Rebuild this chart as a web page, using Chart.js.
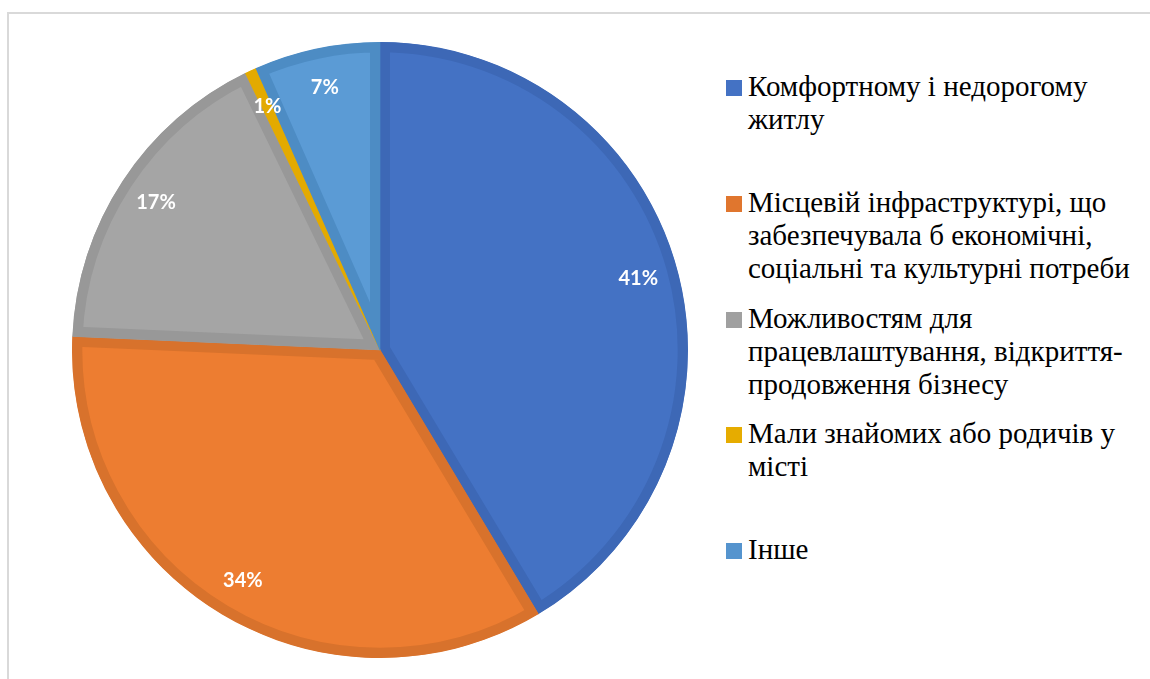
<!DOCTYPE html>
<html>
<head>
<meta charset="utf-8">
<script src="https://cdn.jsdelivr.net/npm/chart.js@4/dist/chart.umd.min.js"></script>
<style>
  html, body { margin: 0; padding: 0; background: #fff; }
  body { width: 1150px; height: 679px; position: relative; overflow: hidden; }
  #frame { position: absolute; left: 7px; top: 12px; width: 1200px; height: 700px;
           border-top: 2px solid #d9d9d9; border-left: 2px solid #d9d9d9; }
  #wrap { position: absolute; left: 72px; top: 42px; width: 616px; height: 616px; }
  #legend { position: absolute; left: 726px; top: 70px; font-family: 'Liberation Serif', 'Times New Roman', serif;
            font-size: 29px; line-height: 33px; color: #000; }
  .item { position: absolute; left: 0; white-space: nowrap; }
  .box { position: absolute; left: 0; top: 10px; width: 16px; height: 16px; }
  .txt { position: absolute; left: 22px; top: 0; }
</style>
</head>
<body>
<div id="frame"></div>
<div id="wrap"><canvas id="pie"></canvas></div>
<div id="legend"></div>
<script>
const categories = [
  ['Комфортному і недорогому', 'житлу'],
  ['Місцевій інфраструктурі, що', 'забезпечувала б економічні,', 'соціальні та культурні потреби'],
  ['Можливостям для', 'працевлаштування, відкриття-', 'продовження бізнесу'],
  ['Мали знайомих або родичів у', 'місті'],
  ['Інше']
];
// shares; labels show them rounded
const shares = [41.4, 34.3, 17.1, 0.6, 6.6];
const fillColors = ['#4472C4', '#ED7D31', '#A5A5A5', '#FFC000', '#5B9BD5'];
const edgeColors = ['#3D68B6', '#D8722C', '#989898', '#E3AA00', '#4D8CC4'];
const legendColors = ['#4472C4', '#E0762E', '#A0A0A0', '#E6AC00', '#5594CE'];

// legend
const legend = document.getElementById('legend');
categories.forEach((lines, i) => {
  const item = document.createElement('div');
  item.className = 'item';
  item.style.top = (i * 115.75) + 'px';
  const box = document.createElement('div');
  box.className = 'box';
  box.style.background = legendColors[i];
  const txt = document.createElement('div');
  txt.className = 'txt';
  txt.innerHTML = lines.join('<br>');
  item.appendChild(box);
  item.appendChild(txt);
  legend.appendChild(item);
});

const pctLabels = {
  id: 'pctLabels',
  afterDatasetsDraw(chart) {
    const ctx = chart.ctx;
    const meta = chart.getDatasetMeta(0);
    ctx.save();
    ctx.fillStyle = '#fff';
    ctx.font = 'bold 20px Lato, "Open Sans", sans-serif';
    ctx.textAlign = 'center';
    ctx.textBaseline = 'middle';
    meta.data.forEach((arc, i) => {
      const mid = (arc.startAngle + arc.endAngle) / 2;
      const r = arc.outerRadius * 0.87;
      ctx.fillText(Math.round(shares[i]) + '%', arc.x + Math.cos(mid) * r, arc.y + Math.sin(mid) * r);
    });
    ctx.restore();
  }
};

new Chart(document.getElementById('pie').getContext('2d'), {
  type: 'pie',
  data: {
    labels: categories.map(l => l.join(' ')),
    datasets: [{
      data: shares,
      backgroundColor: fillColors,
      borderColor: edgeColors,
      borderWidth: 10,
      borderAlign: 'inner'
    }]
  },
  options: {
    responsive: true,
    maintainAspectRatio: false,
    animation: false,
    layout: { padding: 0 },
    plugins: {
      legend: { display: false },
      tooltip: { enabled: false }
    }
  },
  plugins: [pctLabels]
});
</script>
</body>
</html>
